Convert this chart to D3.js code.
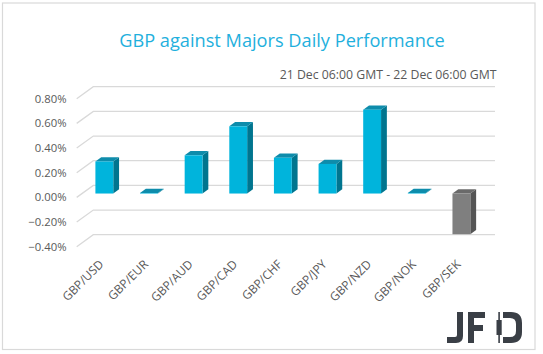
<!DOCTYPE html>
<html><head><meta charset="utf-8">
<script src="https://cdn.jsdelivr.net/npm/d3@7"></script>
<style>html,body{margin:0;padding:0;background:#fff;}svg{display:block;font-family:"Open Sans","Noto Sans",sans-serif;}</style>
</head><body>
<script>
const categories = ["GBP/USD","GBP/EUR","GBP/AUD","GBP/CAD","GBP/CHF","GBP/JPY","GBP/NZD","GBP/NOK","GBP/SEK"];
const values = [0.26, 0.005, 0.31, 0.545, 0.29, 0.24, 0.68, 0.005, -0.33];
const tickValues = [-0.4, -0.2, 0, 0.2, 0.4, 0.6, 0.8];
const title = "GBP against Majors Daily Performance";
const subtitle = "21 Dec 06:00 GMT - 22 Dec 06:00 GMT";

const W = 543, H = 354;
const svg = d3.select("body").append("svg").attr("width", W).attr("height", H);

svg.append("rect").attr("x",2.5).attr("y",3).attr("width",532.5).attr("height",346.5)
  .attr("fill","#fff").attr("stroke","#d9d9d9").attr("stroke-width",1.2);

// 3D projection: depth d in [0,1], 0 = back wall, 1 = front edge
const DX = -16.6, DY = 12;
const P = (x, y, d) => [x + DX*d, y + DY*d];

const x = d3.scaleBand().domain(categories).range([93.3, 495]).paddingInner(0.6).paddingOuter(0.3);
const y = d3.scaleLinear().domain([-0.4, 0.8]).range([234.7, 86.7]);

// gridlines
const grid = svg.append("g").attr("stroke","#d9d9d9").attr("stroke-width",1.3).attr("fill","none");
tickValues.forEach(t => {
  const yb = y(t);
  const f = P(93.3, yb, 1);
  grid.append("path").attr("d", `M${f[0]},${f[1]}L93.3,${yb}H495`);
});

// y tick labels
svg.append("g").selectAll("text").data(tickValues).join("text")
  .attr("x", 66.5).attr("y", d => P(93.3, y(d), 1)[1] + 4)
  .attr("text-anchor","end").attr("font-size", 11.3).attr("fill","#595959")
  .text(d => d3.format(".2%")(d/100));

// bars
const dF = 0.68, dB = 0.33;
const bars = svg.append("g");
categories.forEach((c, i) => {
  const v = values[i];
  const neg = v < 0;
  const cols = neg ? {front:"#7f7f7f", side:"#555555", top:"#6a6a6a"} : {front:"#00b4dc", side:"#00758f", top:"#0e8cab"};
  const xl = x(c), xr = x(c) + x.bandwidth();
  const yt = y(Math.max(v,0)), yb = y(Math.min(v,0));
  const pts = (arr) => arr.map(p => p.join(",")).join(" ");
  bars.append("polygon").attr("fill", cols.side).attr("points", pts([
    P(xr, yt, dF), P(xr, yt, dB), P(xr, yb, dB), P(xr, yb, dF)]));
  bars.append("polygon").attr("fill", cols.top).attr("points", pts([
    P(xl, yt, dF), P(xl, yt, dB), P(xr, yt, dB), P(xr, yt, dF)]));
  const f0 = P(xl, yt, dF), f1 = P(xr, yb, dF);
  bars.append("rect").attr("fill", cols.front)
    .attr("x", f0[0]).attr("y", f0[1]).attr("width", f1[0]-f0[0]).attr("height", Math.max(0, f1[1]-f0[1]));
});

// category labels
svg.append("g").selectAll("text").data(categories).join("text")
  .attr("transform", d => {
    const p = P(x(d) + x.bandwidth()/2, 0, dF);
    return `translate(${p[0]},265) rotate(-45)`;
  })
  .attr("text-anchor","end").attr("font-size", 12).attr("fill","#595959")
  .text(d => d);

// title + subtitle
function fit(sel, target){
  const w = sel.node().getComputedTextLength();
  const fs = +sel.attr("font-size");
  sel.attr("font-size", fs * target / w);
}
const t = svg.append("text").attr("x", 282).attr("y", 47).attr("text-anchor","middle")
  .attr("font-size", 20).attr("fill","#1fb0dd").text(title);
fit(t, 326);
const s = svg.append("text").attr("x", 496.5).attr("y", 78.5).attr("text-anchor","end")
  .attr("font-size", 12).attr("fill","#595959").text(subtitle);
fit(s, 217);

// JFD logo
const logo = svg.append("g").attr("fill","#3a3f46");
logo.append("path").attr("d","M457,312H463V336Q463,343 456,343H447V337H455Q457,337 457,335Z");
logo.append("path").attr("d","M468,312H485V318H474V325H483V331H474V343H468Z");
logo.append("rect").attr("x",498.3).attr("y",312).attr("width",1.6).attr("height",31);
logo.append("rect").attr("x",496.5).attr("y",320).attr("width",5.2).attr("height",15);
logo.append("path").attr("d","M503,312H511Q522,312 522,323V332Q522,343 511,343H503V337H510Q516,337 516,331V324Q516,318 510,318H503Z");
</script>
</body></html>
